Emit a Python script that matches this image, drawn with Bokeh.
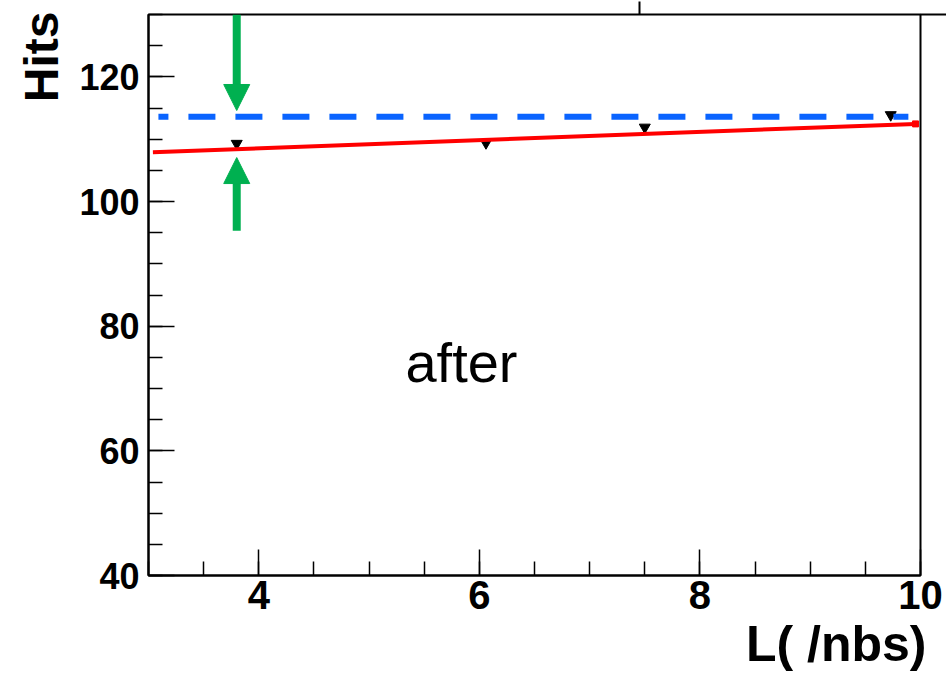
import numpy as np
from bokeh.plotting import figure
from bokeh.models import (Range1d, SingleIntervalTicker, FixedTicker, LinearAxis, Label,
                          Arrow, NormalHead, ColumnDataSource, Title)
from bokeh.embed import file_html
from bokeh.resources import INLINE

# ---- data ----
lumi = [3.80, 6.06, 7.50, 9.73]            # L (/nbs)
hits = [109.3, 109.4, 111.9, 113.9]        # Hits (after)
fit_x = [3.04, 9.955]                      # linear fit (red)
fit_y = [107.9, 112.45]
ref_x = [3.09, 9.89]                       # reference level (blue dashed)
ref_y = [113.6, 113.6]

# arrows marking the gap (x, shaft start, head tip)
arrow_x = 3.80
down_arrow = [130.0, 114.6]
up_arrow = [95.3, 107.05]
head_len = 4.0                             # in data units (~25 px)

# edge of the cut-off box at the top right
box_left = 7.45
box_bottom = 130

x_ticks_interval = 2
y_ticks_interval = 20

FONT = "Liberation Sans"
GREEN = "#00b050"
BLUE = "#0a64ff"
RED = "#ff0000"

p = figure(width=946, height=674, output_backend="svg", toolbar_location=None,
           x_range=Range1d(3, 10), y_range=Range1d(40, 130),
           min_border_left=148, min_border_right=26, min_border_top=14,
           min_border_bottom=99)
p.background_fill_color = "white"
p.border_fill_color = "white"
p.grid.visible = False
p.outline_line_color = "black"
p.outline_line_width = 2

p.xaxis.ticker = SingleIntervalTicker(interval=x_ticks_interval, num_minor_ticks=4)
p.yaxis.ticker = SingleIntervalTicker(interval=y_ticks_interval, num_minor_ticks=4)
for ax in (p.xaxis, p.yaxis):
    ax.axis_line_color = "black"
    ax.axis_line_width = 2
    ax.major_tick_in = 26
    ax.major_tick_out = 0
    ax.minor_tick_in = 14
    ax.minor_tick_out = 0
    ax.major_tick_line_color = "black"
    ax.minor_tick_line_color = "black"
    ax.major_tick_line_width = 1.5
    ax.minor_tick_line_width = 1.5
    ax.major_label_text_font = FONT
    ax.major_label_text_font_style = "bold"
    ax.major_label_text_font_size = "36px"
    ax.major_label_text_color = "black"
p.xaxis.major_label_text_font_size = "40px"
p.yaxis.major_label_standoff = 9
p.xaxis.major_label_standoff = 5

# axis titles as plot titles (not clipped by the frame)
p.add_layout(Title(text="L( /nbs)", align="right", text_font=FONT, text_font_size="50px",
                   text_font_style="bold", text_color="black", standoff=4, offset=-6), "below")
p.add_layout(Title(text="Hits", align="right", text_font=FONT, text_font_size="48px",
                   text_font_style="bold", text_color="black", standoff=18, offset=-3), "left")

# edges of the cut-off box at the top right, drawn as outward ticks of bare axes
def edge_axis(ticks, loc, length):
    ax = LinearAxis(ticker=FixedTicker(ticks=ticks, minor_ticks=[]),
                    axis_line_alpha=0, major_tick_in=0, major_tick_out=length,
                    major_tick_line_color="black", major_tick_line_width=2,
                    major_label_text_font_size="1px", major_label_text_alpha=0,
                    major_label_standoff=0, minor_tick_in=0, minor_tick_out=0)
    p.add_layout(ax, loc)

edge_axis([box_left], "above", 13)
edge_axis([box_bottom], "right", 26)

# data points
src = ColumnDataSource(dict(x=lumi, y=hits))
p.scatter("x", "y", source=src, marker="inverted_triangle", size=11,
          fill_color="black", line_color="black")

# fit line
p.line(fit_x, fit_y, line_color=RED, line_width=4)
p.scatter([fit_x[-1]], [fit_y[-1]], marker="square", size=6, fill_color=RED, line_color=RED)

# reference level
p.line(ref_x, ref_y, line_color=BLUE, line_width=6, line_dash="27 20", line_dash_offset=17)

# green arrows: shaft + head
def add_arrow(start, tip):
    sign = 1 if tip > start else -1
    base = tip - sign * head_len
    p.segment(x0=[arrow_x], y0=[start], x1=[arrow_x], y1=[base],
              line_color=GREEN, line_width=8)
    p.add_layout(Arrow(end=NormalHead(size=26, fill_color=GREEN, line_color=GREEN, line_width=1),
                       x_start=arrow_x, y_start=base, x_end=arrow_x, y_end=tip,
                       line_alpha=0, line_width=1))

add_arrow(*down_arrow)
add_arrow(*up_arrow)

# text inside the frame
p.add_layout(Label(x=5.838, y=74.1, text="after", text_font=FONT, text_font_size="56px",
                   text_align="center", text_baseline="alphabetic", text_color="black"))

open("out.html", "w").write(file_html(p, INLINE))
